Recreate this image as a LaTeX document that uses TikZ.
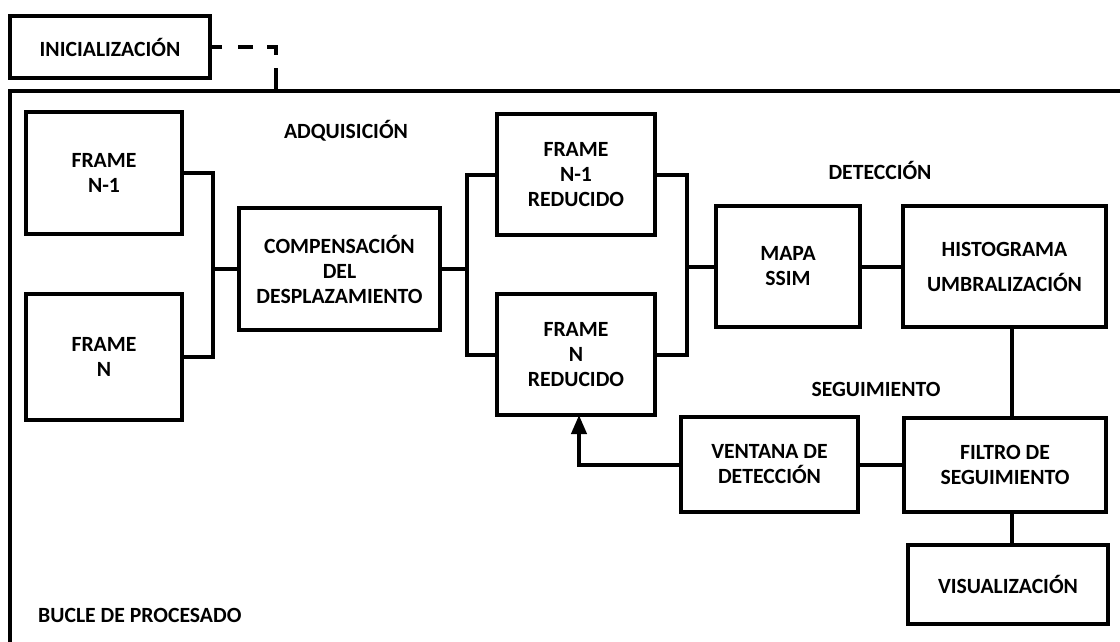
\documentclass[tikz,border=0pt]{standalone}
\usepackage{fontspec}
\setmainfont{Carlito}
\usepackage{tikz}
\usetikzlibrary{arrows.meta, positioning, calc}

\begin{document}
\begin{tikzpicture}[
  x=1pt, y=-1pt,
  font=\bfseries\fontsize{21.7}{25}\selectfont,
  procbox/.style={
    rectangle, draw=black, line width=4pt, outer sep=0pt,
    align=center, inner sep=2pt
  },
  labeltext/.style={anchor=base, inner sep=0pt},
  link/.style={draw=black, line width=4pt},
  initlink/.style={draw=black, line width=4pt,
    dash pattern=on 23pt off 13pt on 17pt off 14pt on 15pt off 16pt on 12pt off 0pt},
  arr/.style={link, -{Triangle[length=19pt, width=15pt]}},
]
\useasboundingbox (0,0) rectangle (1120,642);
\clip (0,0) rectangle (1120,642);

% outer loop frame, runs off the page at right and bottom
\node[procbox, minimum width=1300pt, minimum height=800pt, anchor=north west] (bucle) at (10,91) {};
\node[anchor=base west, inner sep=0pt] (bucletxt) at (38,622) {BUCLE DE PROCESADO};

% init block, dashed link into the loop
\node[procbox, minimum width=200pt, minimum height=62pt] (ini) at (110,47) {INICIALIZACIÓN};
\coordinate (entry) at (276,91);
\draw[initlink] (entry) |- (ini.east);

% Band 1: acquisition
\node[labeltext] (adq) at (346,139) {ADQUISICIÓN};
\node[procbox, minimum width=156pt, minimum height=122pt] (fn1) at (104,173) {FRAME\\N-1};
\node[procbox, minimum width=156pt, minimum height=126pt] (fn) at (104,357) {FRAME\\N};
\node[procbox, minimum width=201pt, minimum height=122pt] (comp) at (339.5,269) {COMPENSACIÓN\\DEL\\DESPLAZAMIENTO};
\node[procbox, minimum width=158pt, minimum height=121pt] (fr1) at (576,174.5) {FRAME\\N-1\\REDUCIDO};
\node[procbox, minimum width=158pt, minimum height=121pt] (frn) at (576,354.5) {FRAME\\N\\REDUCIDO};

% Band 2: detection
\node[labeltext] (det) at (880,179) {DETECCIÓN};
\node[procbox, minimum width=144pt, minimum height=121pt] (mapa) at (788,266.5) {MAPA\\SSIM};
\node[procbox, minimum width=203pt, minimum height=121pt] (hist) at (1004.5,266.5) {HISTOGRAMA\\[10pt]UMBRALIZACIÓN};

% Band 3: tracking
\node[labeltext] (seg) at (876,396) {SEGUIMIENTO};
\node[procbox, minimum width=177pt, minimum height=95pt] (vent) at (769.5,464.5) {VENTANA DE\\DETECCIÓN};
\node[procbox, minimum width=202pt, minimum height=94pt] (filt) at (1005,464.5) {FILTRO DE\\SEGUIMIENTO};
\node[procbox, minimum width=200pt, minimum height=79pt] (vis) at (1008,584.5) {VISUALIZACIÓN};

% junction points
\coordinate (jl) at (213,269);
\coordinate (jm) at (467,269);
\coordinate (jr) at (687,266.5);
\coordinate (tap) at (1012,0);

% Band 1 links
\draw[link] (fn1.east) -| (jl) |- (fn.east);
\draw[link] (jl) -- (comp.west);
\draw[link] (comp.east) -- (jm);
\draw[link] (fr1.west) -| (jm) |- (frn.west);

% Band 2 links
\draw[link] (fr1.east) -| (jr) |- (frn.east);
\draw[link] (jr) -- (mapa.west);
\draw[link] (mapa) -- (hist);
\draw[link] (hist.south -| tap) -- (filt.north -| tap);

% Band 3 links
\draw[link] (vent) -- (filt);
\draw[link] (filt.south -| tap) -- (vis.north -| tap);
\draw[arr] (vent.west) -| ([xshift=3pt]frn.south);
\end{tikzpicture}
\end{document}
